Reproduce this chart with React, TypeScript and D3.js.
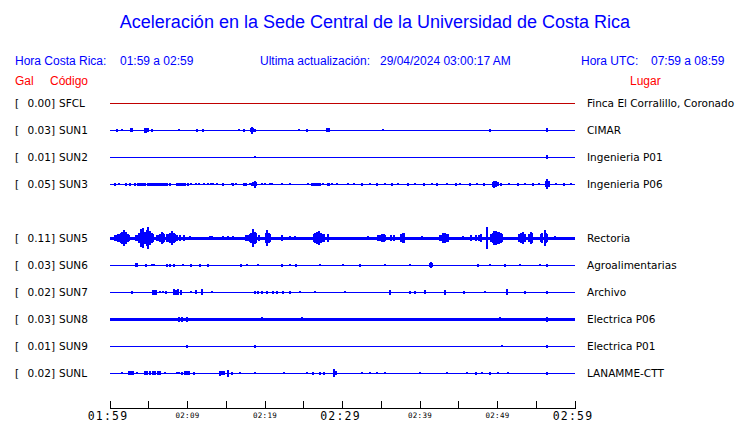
import React from "react";
import * as d3 from "d3";

// ---------- data ----------
const TITLE = "Aceleración en la Sede Central de la Universidad de Costa Rica";
const CODES = ["SFCL", "SUN1", "SUN2", "SUN3", "SUN4", "SUN5", "SUN6", "SUN7", "SUN8", "SUN9", "SUNL"];
const GAL: (number | null)[] = [0.0, 0.03, 0.01, 0.05, null, 0.11, 0.03, 0.02, 0.03, 0.01, 0.02];
const PLACES = [
  "Finca El Corralillo, Coronado", "CIMAR", "Ingenieria P01", "Ingenieria P06", "",
  "Rectoria", "Agroalimentarias", "Archivo", "Electrica P06", "Electrica P01", "LANAMME-CTT",
];
// background noise half-amplitude (relative units)
const NOISE = [0.5, 0.5, 0.5, 0.5, 0, 1.5, 0.5, 0.5, 1.5, 0.5, 0.5];

const MINUTE_TICKS = [0, 5, 10, 15, 20, 25, 30, 35, 40, 45, 50, 55, 60];
const TICK_LABELS: Record<number, string> = {
  0: "01:59", 10: "02:09", 20: "02:19", 30: "02:29", 40: "02:39", 50: "02:49", 60: "02:59",
};
const MAJOR = [0, 30, 60];

// spikes: [minute after 01:59, half amplitude (relative units)]
const SFCL: [number, number][] = [];
const SUN1: [number, number][] = [
  [0.9, 1.5], [1.5, 1], [2.7, 2], [2.8, 2], [4.5, 2.5], [4.7, 2.5], [4.9, 2], [5.4, 1.5], [8.9, 1],
  [11.2, 1.5], [12.0, 1.5], [16.6, 1], [17.3, 1.5], [18.2, 2], [18.3, 3.5], [18.5, 2], [18.7, 1.5],
  [24.4, 1], [25.4, 1.5], [28.0, 2], [28.2, 2], [35.2, 1], [49.0, 1.5], [56.4, 2],
];
const SUN2: [number, number][] = [[18.7, 1], [56.4, 2]];
const SUN3: [number, number][] = [
  [0.6, 1.5], [0.7, 1.5], [1.2, 1], [2.0, 1.5], [2.1, 1.5], [2.6, 1.5], [3.2, 1.5], [3.6, 1.5], [3.8, 1.5],
  [4.0, 1.5], [4.3, 1.5], [4.5, 1.5], [4.9, 1.5], [5.1, 1.5], [5.4, 1.5], [5.6, 1.5], [5.8, 1.5],
  [6.0, 1.5], [6.2, 1.5], [6.4, 1.5], [6.6, 1.5], [6.8, 1.5], [7.0, 1.5], [7.2, 1.5], [7.4, 1.5],
  [7.7, 1.5], [8.6, 1.5], [8.8, 1.5], [9.0, 1.5], [9.2, 1.5], [9.4, 1.5], [9.7, 1.5], [10.0, 1.5],
  [10.4, 1], [11.1, 1], [11.5, 1], [12.1, 1], [12.7, 1], [13.0, 1], [13.3, 1], [13.8, 1], [14.6, 1.5],
  [15.7, 1], [15.9, 1.5], [16.3, 1], [17.3, 1.5], [17.5, 1.5], [18.0, 1], [18.3, 1.5], [18.5, 2],
  [18.75, 3.5], [18.9, 2], [19.6, 1], [20.0, 1], [20.6, 1], [20.9, 1], [22.2, 1], [23.2, 1],
  [25.5, 1], [26.1, 1.5], [26.3, 1.5], [26.5, 1.5], [26.7, 1.5], [26.9, 1.5], [27.1, 1.5], [27.5, 1],
  [28.1, 1.5], [28.3, 1.5], [28.6, 1], [29.3, 1], [30.7, 1], [31.5, 1], [32.5, 1.5], [33.6, 1],
  [34.5, 1.5], [35.5, 1], [36.4, 1.5], [37.2, 1], [38.5, 1.5], [39.4, 1], [40.5, 1.5], [41.6, 1],
  [42.2, 1.5], [43.5, 1], [44.6, 1.5], [45.2, 1], [46.5, 1.5], [47.4, 1], [48.3, 1.5], [49.4, 2.5],
  [49.6, 3.5], [49.8, 3], [50.1, 2], [50.5, 1.5], [51.5, 1], [52.6, 1.5], [53.5, 1], [54.6, 1.5],
  [55.4, 1], [56.2, 3], [56.4, 5], [56.6, 3], [57.5, 1], [58.6, 1.5], [59.5, 1],
];
const SUN4: [number, number][] = [];
const SUN5: [number, number][] = [
  [0.6, 3], [0.8, 3], [1.0, 4], [1.2, 4], [1.4, 5], [1.6, 6], [1.8, 8], [2.0, 6], [2.1, 5], [2.3, 4],
  [2.5, 3], [3.4, 3], [3.6, 3], [3.8, 5], [4.0, 9], [4.2, 7], [4.3, 10], [4.5, 6], [4.6, 6], [4.8, 8],
  [4.9, 11], [5.1, 7], [5.2, 6], [5.4, 5], [5.6, 4], [6.0, 3], [6.2, 3], [6.5, 4], [6.7, 6], [6.9, 5],
  [7.0, 4], [7.3, 4], [7.5, 4], [7.8, 5], [8.0, 7], [8.2, 5], [8.4, 4], [8.7, 3], [9.0, 3], [9.5, 3],
  [10.3, 2], [12.9, 2], [13.1, 2], [14.6, 2], [15.2, 2], [15.9, 2], [17.6, 3], [17.8, 3], [18.0, 4],
  [18.2, 5], [18.4, 7], [18.5, 9], [18.7, 6], [18.9, 5], [19.2, 3], [20.1, 5], [20.3, 8], [20.5, 5],
  [20.6, 4], [22.2, 3], [23.2, 2], [23.9, 2], [26.3, 4], [26.5, 5], [26.7, 6], [27.0, 7], [27.2, 5],
  [27.4, 4], [27.6, 4], [28.1, 4], [33.3, 2], [34.6, 3], [34.8, 3], [35.1, 4], [35.3, 4], [35.5, 3],
  [36.3, 3], [36.6, 3], [37.6, 4], [37.8, 5], [37.9, 5], [40.3, 2], [42.6, 3], [42.8, 3], [43.0, 5],
  [43.2, 5], [43.4, 4], [43.6, 4], [45.5, 2], [46.6, 3], [47.2, 3], [47.6, 3], [47.9, 4], [48.6, 11],
  [49.2, 4], [49.4, 5], [49.6, 7], [49.8, 7], [50.0, 6], [50.2, 6], [50.4, 5], [50.6, 4], [52.8, 4],
  [53.0, 5], [53.3, 6], [53.5, 4], [54.0, 4], [54.3, 6], [54.5, 5], [55.6, 4], [55.8, 5], [56.1, 8],
  [56.3, 5], [56.4, 4], [57.4, 2],
];
const SUN6: [number, number][] = [
  [3.4, 2], [3.5, 2], [4.7, 1.5], [5.4, 1], [5.7, 1], [7.3, 1.5], [7.8, 1.5], [8.2, 1.5], [9.4, 1],
  [10.5, 1.5], [11.6, 1.5], [12.7, 1.5], [16.9, 1.5], [17.7, 1], [19.1, 1], [22.2, 1.5], [23.2, 1],
  [24.0, 1.5], [27.1, 1], [30.1, 1], [32.3, 1.5], [35.5, 1], [38.7, 1], [41.3, 2], [41.4, 3],
  [41.6, 2], [47.5, 1.5], [49.0, 1], [51.0, 1.5], [52.9, 1], [55.5, 1], [56.4, 1.5],
];
const SUN7: [number, number][] = [
  [2.8, 1.5], [5.5, 2.5], [5.7, 2.5], [5.9, 2.5], [6.45, 1], [6.9, 1], [7.2, 1.5], [8.3, 3], [8.5, 2.5],
  [8.8, 3], [9.1, 2.5], [10.5, 1], [11.1, 2], [11.9, 3], [13.1, 0.8], [18.7, 1.5], [19.1, 1.5],
  [19.6, 1.5], [20.3, 1.5], [21.0, 1.5], [21.5, 1.5], [22.3, 1.5], [23.2, 1.5], [24.5, 1], [26.5, 1],
  [30.3, 1], [36.1, 2.5], [38.7, 1.5], [39.4, 1.5], [40.6, 2], [43.2, 2.5], [45.7, 1.5], [48.4, 1],
  [51.2, 3], [53.5, 1.5], [56.4, 1.5],
];
const SUN8: [number, number][] = [
  [8.9, 2.5], [9.3, 2.5], [9.9, 2.5], [19.6, 1.8], [24.8, 1.8], [50.3, 2], [56.4, 2.5],
];
const SUN9: [number, number][] = [[9.9, 1.5], [18.7, 1.5], [50.6, 1], [56.4, 1.5]];
const SUNL: [number, number][] = [
  [1.5, 0.8], [2.5, 2], [2.7, 2], [3.0, 2], [3.5, 1], [4.5, 2], [4.8, 2], [5.2, 2], [5.5, 2], [5.8, 2],
  [6.2, 2], [6.5, 2], [7.1, 1], [8.6, 1], [8.9, 1], [9.3, 1.5], [9.7, 2], [9.9, 2], [10.2, 2],
  [10.8, 1.5], [14.2, 2.5], [14.5, 2], [14.7, 2], [15.2, 3.5], [15.7, 1.5], [16.8, 1], [18.7, 1],
  [22.5, 1], [25.4, 1], [26.2, 1.5], [27.1, 1.5], [27.6, 1.5], [28.9, 4], [29.2, 2], [32.5, 1],
  [33.6, 1], [34.5, 1], [35.5, 1], [40.0, 1], [43.5, 1], [46.0, 1], [47.2, 1.5], [48.0, 1],
  [49.0, 1.5], [50.0, 1], [51.3, 1], [56.4, 1.5],
];
const SPIKES = [SFCL, SUN1, SUN2, SUN3, SUN4, SUN5, SUN6, SUN7, SUN8, SUN9, SUNL];

// ---------- chart ----------
export default function App() {
  const W = 740, H = 423;
  const x = d3.scaleLinear().domain([0, 60]).range([110, 575]);
  const y = d3.scalePoint<string>().domain(CODES).range([103, 373]);
  const amp = d3.scaleLinear().domain([0, 10]).range([0, 10]);
  const blue = "#0000ff";
  const red = "#ff0000";
  const sans = "'Liberation Sans', Arial, sans-serif";
  const dv = "'DejaVu Sans', sans-serif";
  const mono = "'DejaVu Sans Mono', monospace";
  const axisY = 408.5;

  return (
    <svg width={W} height={H} style={{ position: "absolute", left: 0, top: 0, background: "#fff" }}>
      <rect width={W} height={H} fill="#fff" />
      <text x={375} y={28} textAnchor="middle" fontFamily={sans} fontSize={18} fill={blue}>{TITLE}</text>

      <g fontFamily={sans} fontSize={12} fill={blue}>
        <text x={15} y={65}>Hora Costa Rica:</text>
        <text x={120} y={65}>01:59 a 02:59</text>
        <text x={260} y={65}>Ultima actualización:</text>
        <text x={380} y={65}>29/04/2024 03:00:17 AM</text>
        <text x={581} y={65}>Hora UTC:</text>
        <text x={651} y={65}>07:59 a 08:59</text>
      </g>
      <g fontFamily={sans} fontSize={12} fill={red}>
        <text x={15} y={85}>Gal</text>
        <text x={50} y={85}>Código</text>
        <text x={630} y={85}>Lugar</text>
      </g>

      {CODES.map((code, i) => {
        if (GAL[i] === null) return null;
        const cy = y(code)!;
        const color = code === "SFCL" ? "#c00000" : blue;
        const n = Math.max(amp(NOISE[i]), 0.5);
        return (
          <g key={code}>
            <g fontFamily={dv} fontSize={10.5} fill="#000">
              <text x={15} y={cy + 4}>[</text>
              <text x={55} y={cy + 4} textAnchor="end">{(GAL[i] as number).toFixed(2)}]</text>
              <text x={59} y={cy + 4}>{code}</text>
              <text x={587} y={cy + 4}>{PLACES[i]}</text>
            </g>
            <g shapeRendering="crispEdges" fill={color}>
              <rect x={x(0)} y={cy - n} width={x(60) - x(0)} height={2 * n} />
              {SPIKES[i].map(([t, a], k) => (
                <rect key={k} x={x(t) - 1} y={cy - amp(a)} width={2} height={2 * amp(a)} />
              ))}
            </g>
          </g>
        );
      })}

      <g shapeRendering="crispEdges">
        <line x1={x(0)} x2={x(60)} y1={axisY} y2={axisY} stroke="#000" strokeWidth={1} />
        {MINUTE_TICKS.map((m) => (
          <line key={m} x1={x(m)} x2={x(m)} y1={axisY} y2={axisY - 7.5} stroke="#000" strokeWidth={1} />
        ))}
      </g>
      {MINUTE_TICKS.filter((m) => TICK_LABELS[m]).map((m) => {
        const major = MAJOR.includes(m);
        return (
          <text key={m} x={x(m) - (major ? 2 : 0)} y={major ? 419.5 : 417.5} textAnchor="middle"
            fontFamily={mono} fontSize={major ? 11.5 : 7.5} letterSpacing={major ? 1.2 : 0.3} fill="#000">
            {TICK_LABELS[m]}
          </text>
        );
      })}
    </svg>
  );
}
